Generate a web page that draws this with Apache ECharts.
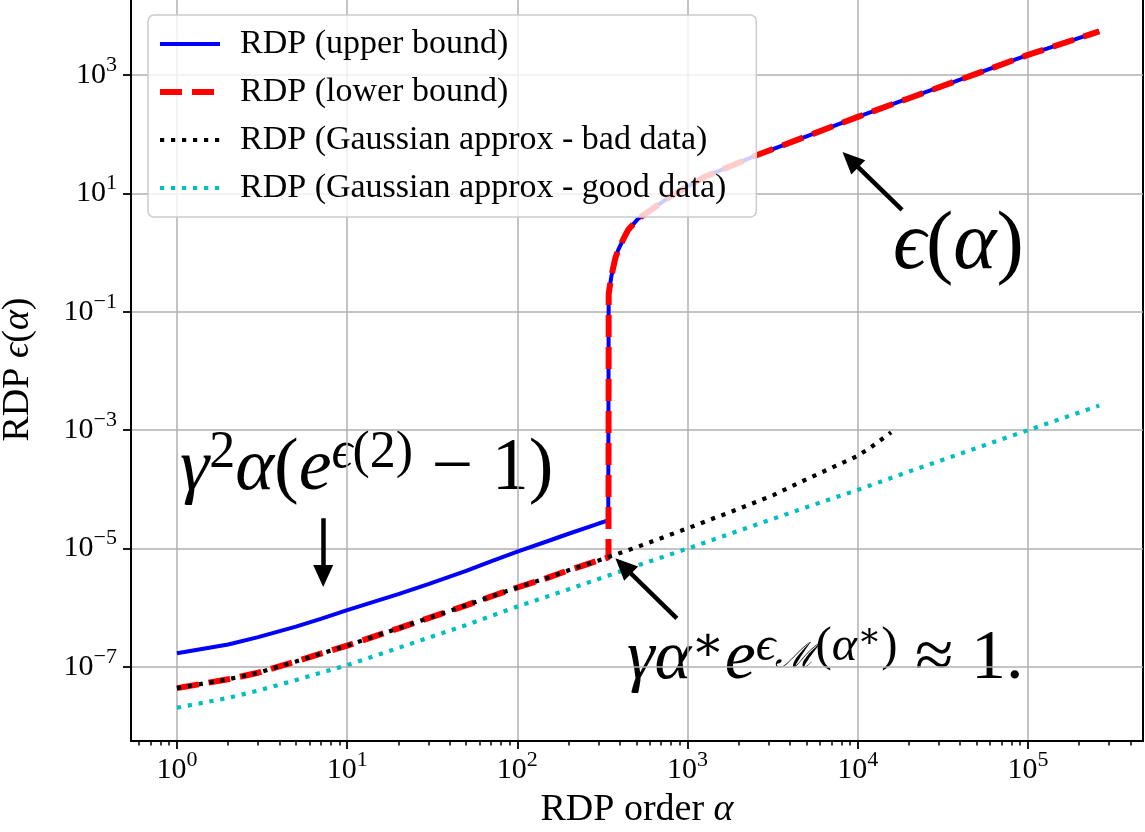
<!DOCTYPE html>
<html lang="en">
<head>
    <meta charset="UTF-8">
    <title>RDP vs order</title>
    <script src="https://cdn.jsdelivr.net/npm/echarts@6/dist/echarts.min.js"></script>
    <style type="text/css">
        html, body {
            margin: 0;
            padding: 0;
            background: #ffffff;
        }

        #rdp-chart {
            width: 1145px;
            height: 832px;
        }
    </style>
</head>
<body>
<div id="rdp-chart"></div>
<script type="text/javascript">
    // upper bound, small orders (blue)
    const alphaUpper = [1, 2, 3, 5, 7, 10, 20, 30, 50, 70, 100, 150, 200, 300, 342];
    const rdpUpper = [1.7e-7, 2.4e-7, 3.2e-7, 4.8e-7, 6.5e-7, 9.1e-7, 1.7e-6, 2.5e-6, 4.2e-6, 6.1e-6,
        8.9e-6, 1.33e-5, 1.78e-5, 2.65e-5, 3.0e-5];
    // lower bound, small orders (red)
    const alphaLower = [1, 2, 3, 5, 7, 10, 20, 30, 50, 70, 100, 150, 200, 300, 343];
    const rdpLower = [4.4e-8, 6.2e-8, 8.0e-8, 1.24e-7, 1.68e-7, 2.3e-7, 4.5e-7, 6.7e-7, 1.1e-6, 1.55e-6,
        2.2e-6, 3.2e-6, 4.3e-6, 6.3e-6, 7.1e-6];
    // part where both bounds coincide, after the jump
    const alphaTail = [344, 350, 357, 376, 391, 420, 447, 511, 600, 779, 1000, 1247, 2000, 2520, 5000,
        1e4, 2e4, 5e4, 1e5, 2.62e5];
    const rdpTail = [0.2, 0.28, 0.4, 0.8, 1.1, 1.7, 2.4, 3.7, 5.1, 8.6, 13, 18.7, 33, 43.6, 92,
        196, 405, 1055, 2180, 5450];
    // gaussian approx - bad data (black)
    const alphaBad = [1, 2, 3, 5, 7, 10, 20, 30, 50, 70, 100, 150, 200, 300, 343, 500, 1000, 2000, 3190,
        5000, 8000, 9000, 1e4, 1.2e4, 1.57e4];
    const rdpBad = [4.4e-8, 6.2e-8, 8.0e-8, 1.24e-7, 1.68e-7, 2.3e-7, 4.5e-7, 6.7e-7, 1.1e-6, 1.55e-6,
        2.2e-6, 3.2e-6, 4.3e-6, 6.3e-6, 7.2e-6, 1.05e-5, 2.2e-5, 4.7e-5, 8.0e-5,
        1.48e-4, 2.75e-4, 3.2e-4, 3.7e-4, 5.2e-4, 9.2e-4];
    // gaussian approx - good data (cyan)
    const alphaGood = [1, 2, 3, 5, 7, 10, 20, 50, 100, 200, 500, 1000, 2000, 5000, 1e4, 2e4, 5e4, 1e5, 2.62e5];
    const rdpGood = [2.05e-8, 3.0e-8, 4.0e-8, 6.0e-8, 8.0e-8, 1.07e-7, 2.1e-7, 5.1e-7, 1.05e-6, 2.05e-6,
        5.1e-6, 1.0e-5, 2.0e-5, 5.0e-5, 9.8e-5, 2.0e-4, 5.0e-4, 1.0e-3, 2.6e-3];

    const seriesNames = ['RDP (upper bound)', 'RDP (lower bound)',
        'RDP (Gaussian approx - bad data)', 'RDP (Gaussian approx - good data)'];

    // axes
    const xMin = 0.537, xMax = 4.74e5;
    const yMin = 5.62e-9, yMax = 1.995e4;
    const xTicks = [1, 10, 100, 1e3, 1e4, 1e5];
    const yTicks = [1e-7, 1e-5, 1e-3, 1e-1, 10, 1e3];

    // arrows: [tail alpha, tail eps, head alpha, head eps]
    const arrowEps = [18200, 5.25, 9050, 37];
    const arrowLinear = [7.23, 3.25e-5, 7.23, 3.44e-6];
    const arrowStar = [865, 6.64e-7, 419, 5.08e-6];

    const SERIF = '"Liberation Serif", "DejaVu Serif", serif';

    const lineStyles = [
        {color: '#0000ff', width: 4, type: 'solid'},
        {color: '#ff0000', width: 6, type: [22, 10], cap: 'butt'},
        {color: '#000000', width: 4.2, type: [4.2, 6.8], cap: 'butt'},
        {color: '#00bfbf', width: 4.2, type: [4.2, 6.8], cap: 'butt'}
    ];

    function zip(xs, ys) {
        return xs.map((x, i) => [x, ys[i]]);
    }

    let minorTicks = [];
    [0.1, 1, 10, 100, 1e3, 1e4, 1e5].forEach(dec => {
        for (let k = 2; k <= 9; k++) {
            let v = k * dec;
            if (v > xMin && v < xMax) minorTicks.push(v);
        }
    });

    function powLabel(value) {
        let e = Math.round(Math.log10(value));
        return '{b|10}{s|' + String(e).replace('-', '\u2212') + '}';
    }

    const tickRich = {
        b: {fontFamily: SERIF, fontSize: 30, color: '#000'},
        s: {fontFamily: SERIF, fontSize: 22, color: '#000', padding: [0, 0, 20, 0]}
    };

    function arrowLine(a) {
        return [{coord: [a[0], a[1]]}, {coord: [a[2], a[3]]}];
    }

    const chart = echarts.init(document.getElementById('rdp-chart'), null, {renderer: 'canvas'});

    const mathRich = function (size, raise) {
        let sup = Math.round(size * 0.7);
        return {
            r: {fontFamily: SERIF, fontSize: size, fill: '#000'},
            i: {fontFamily: SERIF, fontSize: size, fontStyle: 'italic', fill: '#000'},
            s: {fontFamily: SERIF, fontSize: sup, fill: '#000', padding: [0, 0, raise, 0]},
            si: {fontFamily: SERIF, fontSize: sup, fontStyle: 'italic', fill: '#000', padding: [0, 0, raise, 0]},
            sm: {fontFamily: SERIF, fontSize: Math.round(size * 0.5), fontStyle: 'italic', fill: '#000', padding: [0, 0, 4, 0]},
            ss: {fontFamily: SERIF, fontSize: Math.round(size * 0.5), fill: '#000', padding: [0, 0, 44, 0]}
        };
    };

    const option = {
        animation: false,
        backgroundColor: '#ffffff',
        grid: {
            left: 131, right: 2, top: -2, bottom: 91,
            show: true, borderColor: '#000', borderWidth: 2,
            containLabel: false, outerBoundsMode: 'none'
        },
        legend: {
            orient: 'vertical',
            left: 148, top: 15,
            padding: [12, 30, 12, 9],
            itemWidth: 60, itemHeight: 14, itemGap: 14,
            backgroundColor: 'rgba(255,255,255,0.8)',
            borderColor: '#cccccc', borderWidth: 1.5, borderRadius: 6,
            itemStyle: {opacity: 0},
            textStyle: {fontFamily: SERIF, fontSize: 34, color: '#000', lineHeight: 33, padding: [0, 0, 0, 15]},
            data: seriesNames.map((n, i) => ({name: n, itemStyle: {opacity: 0}, lineStyle: lineStyles[i]}))
        },
        xAxis: [{
            type: 'log', logBase: 10, min: xMin, max: xMax,
            name: '{r|RDP order }{i|\u03b1}', nameLocation: 'middle', nameGap: 50,
            nameTextStyle: {
                rich: {
                    r: {fontFamily: SERIF, fontSize: 38, color: '#000'},
                    i: {fontFamily: SERIF, fontSize: 38, fontStyle: 'italic', color: '#000'}
                }
            },
            axisLine: {show: true, lineStyle: {color: '#000', width: 2}},
            axisTick: {show: true, inside: false, length: 8, customValues: xTicks, lineStyle: {color: '#000', width: 1.8}},
            axisLabel: {customValues: xTicks, margin: 8, formatter: powLabel, rich: tickRich},
            splitLine: {show: true, lineStyle: {color: '#b0b0b0', width: 1.5}},
            minorTick: {show: false}
        }, {
            type: 'log', logBase: 10, min: xMin, max: xMax, position: 'bottom', gridIndex: 0,
            axisLine: {show: false},
            axisTick: {show: true, length: 4.5, customValues: minorTicks, lineStyle: {color: '#000', width: 1.5}},
            axisLabel: {show: false},
            splitLine: {show: false}
        }],
        yAxis: {
            type: 'log', logBase: 10, min: yMin, max: yMax,
            name: '{r|RDP }{i|\u03f5}{r|(}{i|\u03b1}{r|)}', nameLocation: 'middle', nameGap: 94, nameRotate: 90,
            nameTextStyle: {
                rich: {
                    r: {fontFamily: SERIF, fontSize: 38, color: '#000'},
                    i: {fontFamily: SERIF, fontSize: 38, fontStyle: 'italic', color: '#000'}
                }
            },
            axisLine: {show: true, lineStyle: {color: '#000', width: 2}},
            axisTick: {show: true, inside: false, length: 8, customValues: yTicks, lineStyle: {color: '#000', width: 1.8}},
            axisLabel: {customValues: yTicks, margin: 14, formatter: powLabel, rich: tickRich},
            splitLine: {show: true, lineStyle: {color: '#b0b0b0', width: 1.5}}
        },
        series: [{
            name: seriesNames[0], type: 'line', symbol: 'none', showSymbol: false,
            data: zip(alphaUpper, rdpUpper).concat(zip(alphaTail, rdpTail)),
            lineStyle: lineStyles[0],
            itemStyle: {color: '#0000ff'}
        }, {
            name: seriesNames[1], type: 'line', symbol: 'none', showSymbol: false,
            data: zip(alphaLower, rdpLower).concat(zip(alphaTail, rdpTail)),
            lineStyle: lineStyles[1],
            itemStyle: {color: '#ff0000'}
        }, {
            name: seriesNames[2], type: 'line', symbol: 'none', showSymbol: false,
            data: zip(alphaBad, rdpBad),
            lineStyle: lineStyles[2],
            itemStyle: {color: '#000000'}
        }, {
            name: seriesNames[3], type: 'line', symbol: 'none', showSymbol: false,
            data: zip(alphaGood, rdpGood),
            lineStyle: lineStyles[3],
            itemStyle: {color: '#00bfbf'},
            markLine: {
                silent: true,
                symbol: ['none', 'triangle'],
                symbolSize: [20, 22],
                label: {show: false},
                lineStyle: {color: '#000', width: 4.5, type: 'solid'},
                data: [arrowLine(arrowEps), arrowLine(arrowLinear), arrowLine(arrowStar)]
            }
        }],
        graphic: [{
            type: 'text', x: 893, y: 246, silent: true,
            style: {
                text: '{i|\u03f5}{r|(}{i|\u03b1}{r|)}',
                rich: mathRich(82, 30), align: 'left', verticalAlign: 'middle'
            }
        }, {
            type: 'text', x: 180, y: 470, silent: true,
            style: {
                text: '{i|\u03b3}{s|2}{i|\u03b1}{r|(}{i|e}{si|\u03f5}{s|(2)}{r| \u2212 1)}',
                rich: mathRich(74, 34), align: 'left', verticalAlign: 'middle'
            }
        }, {
            type: 'text', x: 627, y: 660, silent: true,
            style: {
                text: '{i|\u03b3\u03b1}{s|\u2217}{i|e}{si|\u03f5}{sm|\u2133}{s|(}{si|\u03b1}{ss|\u2217}{s|)}{r| \u2248 1.}',
                rich: mathRich(70, 26), align: 'left', verticalAlign: 'middle'
            }
        }]
    };

    chart.setOption(option);
</script>
</body>
</html>
